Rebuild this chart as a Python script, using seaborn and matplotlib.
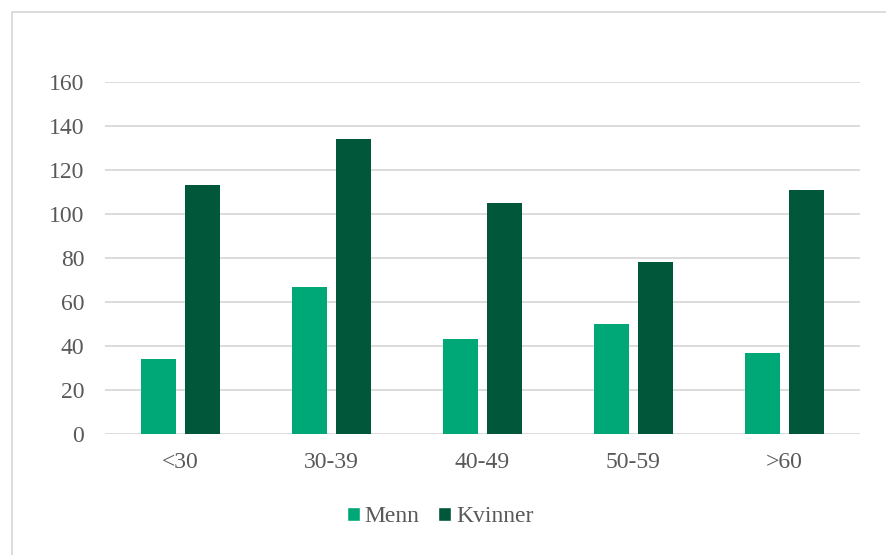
import matplotlib
matplotlib.use("Agg")
import matplotlib.pyplot as plt
import seaborn as sns
import pandas as pd
from matplotlib.patches import Rectangle, Patch

categories = ["<30", "30-39", "40-49", "50-59", ">60"]
menn = [34, 67, 43, 50, 37]
kvinner = [113, 134, 105, 78, 111]
series = ["Menn", "Kvinner"]
colors = ["#00A878", "#00573A"]

df = pd.DataFrame({
    "Alder": categories * 2,
    "Antall": menn + kvinner,
    "Kjønn": ["Menn"] * len(categories) + ["Kvinner"] * len(categories),
})

sns.set_theme(style="white")
plt.rcParams["font.family"] = ["Liberation Serif", "DejaVu Serif"]

fig = plt.figure(figsize=(8.87, 5.55), dpi=100)
ax = fig.add_axes([105/887, 1-434/555, (860-105)/887, (434-82)/555])

sns.barplot(data=df, x="Alder", y="Antall", hue="Kjønn", hue_order=series,
            palette=colors, width=0.583, gap=0.2, ax=ax, legend=False,
            saturation=1, edgecolor="none")

ax.set_ylim(0, 160)
ax.set_xlim(-0.5, 4.5)
ax.set_yticks(range(0, 161, 20))
ax.yaxis.grid(True, color="#D9D9D9", linewidth=1.3)
ax.set_axisbelow(True)
for s in ax.spines.values():
    s.set_visible(False)
ax.set_xlabel("")
ax.set_ylabel("")
ax.tick_params(axis="both", length=0, labelsize=17, labelcolor="#595959")
ax.tick_params(axis="y", pad=15)
ax.tick_params(axis="x", pad=13)

handles = [Patch(facecolor=c, label=s) for c, s in zip(colors, series)]
leg = fig.legend(handles=handles, loc="center", bbox_to_anchor=(440/887, 1-517/555),
                 ncol=2, frameon=False, fontsize=17, handlelength=0.55, handleheight=0.55,
                 handletextpad=0.2, columnspacing=0.8)
for t in leg.get_texts():
    t.set_color("#595959")

fig.patches.append(Rectangle((12/887, -0.1), 1.0, 1-12/555+0.1, transform=fig.transFigure,
                             fill=False, edgecolor="#D9D9D9", linewidth=1.3))

fig.savefig("out.png", dpi=100)
